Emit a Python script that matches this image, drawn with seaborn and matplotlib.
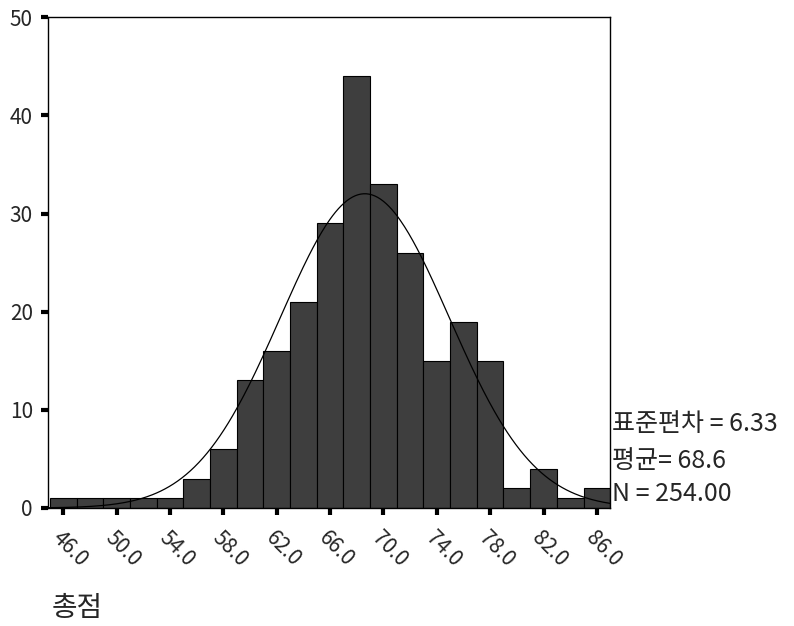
import numpy as np
import pandas as pd
import matplotlib
matplotlib.use("Agg")
import matplotlib.pyplot as plt
import seaborn as sns

# Data
bin_centers = [46, 48, 50, 52, 54, 56, 58, 60, 62, 64, 66, 68, 70, 72, 74, 76, 78, 80, 82, 84, 86]
counts = [1, 1, 1, 1, 1, 3, 6, 13, 16, 21, 29, 44, 33, 26, 15, 19, 15, 2, 4, 1, 2]
x_ticks = [46, 50, 54, 58, 62, 66, 70, 74, 78, 82, 86]
x_tick_labels = ["46.0", "50.0", "54.0", "58.0", "62.0", "66.0", "70.0", "74.0", "78.0", "82.0", "86.0"]
y_ticks = [0, 10, 20, 30, 40, 50]
std_dev = 6.33
mean = 68.6
n_total = 254
bin_width = 2

sns.set_style("ticks")
plt.rcParams['font.family'] = ['Noto Sans CJK KR', 'DejaVu Sans']

fig = plt.figure(figsize=(7.94, 6.26), dpi=100)
ax = fig.add_axes([0.0605, 0.1885, 0.708, 0.784])

df = pd.DataFrame({"score": bin_centers, "count": counts})
sns.histplot(data=df, x="score", weights="count", binwidth=bin_width,
             binrange=(45, 87), color="#3e3e3e", edgecolor="black",
             linewidth=0.8, alpha=1.0, ax=ax)

xs = np.linspace(44.85, 87, 400)
ys = n_total * bin_width * np.exp(-0.5 * ((xs - mean) / std_dev) ** 2) / (std_dev * np.sqrt(2 * np.pi))
sns.lineplot(x=xs, y=ys, color="black", linewidth=0.9, ax=ax)

ax.set_xlim(44.85, 87.0)
ax.set_ylim(0, 50)
ax.set_xticks(x_ticks)
ax.set_xticklabels(x_tick_labels, rotation=-45, ha="left", va="top",
                   rotation_mode="anchor", fontsize=15)
ax.set_yticks(y_ticks)
ax.set_yticklabels([str(v) for v in y_ticks], fontsize=15)
ax.tick_params(axis="both", direction="out", length=5, width=3, color="black")
ax.tick_params(axis="x", pad=9)
ax.tick_params(axis="y", pad=6)
for s in ax.spines.values():
    s.set_visible(True)
    s.set_color("black")
    s.set_linewidth(1.0)
ax.set_xlabel("")
ax.set_ylabel("")

fig.text(0.771, 0.322, f"표준편차 = {std_dev:.2f}", fontsize=18, va="center", ha="left")
fig.text(0.771, 0.264, f"평균= {mean:.1f}", fontsize=18, va="center", ha="left")
fig.text(0.771, 0.211, f"N = {n_total:.2f}", fontsize=18, va="center", ha="left")
fig.text(0.065, 0.028, "총점", fontsize=20, va="center", ha="left")

fig.savefig("out.png", dpi=100)
